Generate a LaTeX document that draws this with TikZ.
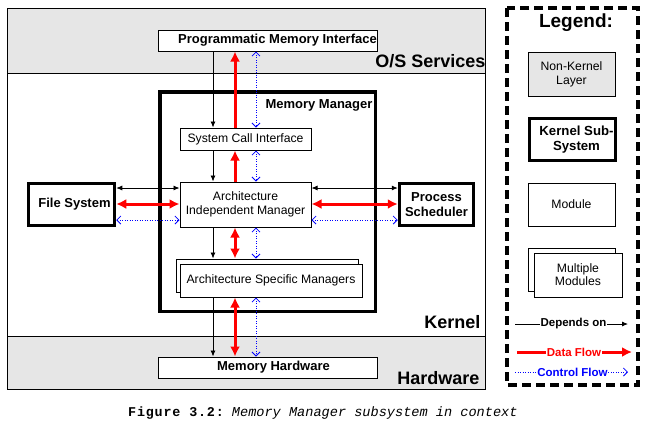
\documentclass[tikz,border=0pt]{standalone}
\usepackage{fontspec}
\setmainfont{Liberation Sans}
\setmonofont{Liberation Mono}
\usetikzlibrary{arrows.meta}
\definecolor{layergray}{RGB}{230,230,230}
\newcommand{\fsz}[1]{\fontsize{#1}{#1}\selectfont}
\tikzset{
  box/.style={draw, line width=1pt, inner sep=0pt, fill=white, align=center},
  thickbox/.style={draw, line width=3.5pt, inner sep=0pt, fill=white, align=center},
  reg/.style={font=\fsz{12.2}, align=center},
  bld/.style={font=\bfseries\fsz{13}, align=center},
  big/.style={font=\bfseries\fsz{18}},
  dep/.style={line width=0.8pt, -{Latex[length=6pt,width=5pt]}},
  depboth/.style={line width=0.8pt, {Latex[length=6pt,width=5pt]}-{Latex[length=6pt,width=5pt]}},
  data/.style={red, line width=3pt, -{Latex[length=10pt,width=10pt]}},
  databoth/.style={red, line width=3pt, {Latex[length=10pt,width=10pt]}-{Latex[length=10pt,width=10pt]}},
  ctrl/.style={blue, line width=0.8pt, dash pattern=on 1pt off 1.5pt, {Straight Barb[length=4pt,width=8pt]}-{Straight Barb[length=4pt,width=8pt]}},
  ctrlone/.style={blue, line width=0.8pt, dash pattern=on 1pt off 1.5pt, -{Straight Barb[length=4pt,width=8pt]}},
}
\begin{document}
\begin{tikzpicture}[x=1pt,y=-1pt]
\useasboundingbox (0,0) rectangle (648,421);
% layers
\fill[layergray] (7,8) rectangle (485,73);
\fill[layergray] (7,336) rectangle (485,389);
\draw[line width=1pt] (7,8) rectangle (485,389);
\draw[line width=1pt] (7,73) -- (485,73);
\draw[line width=1pt] (7,336) -- (485,336);
\node[big, anchor=east] (oslbl) at (489,61) {O/S Services};
\node[big, anchor=east] (kerlbl) at (484,322) {Kernel};
\node[big, anchor=east] (hwlbl) at (483,378) {Hardware};

% nodes
\node[box, minimum width=219, minimum height=21] (pmi) at (267.5,40.5) {};
\node[bld] (pmit) at ([xshift=10pt]pmi.center) {Programmatic Memory Interface};
\node[thickbox, minimum width=215.5, minimum height=219.5] (mm) at (267.5,201.5) {};
\node[bld, anchor=east] (mmt) at (376,105) {Memory Manager};
\node[box, reg, minimum width=131, minimum height=22] (sci) at (245.5,139) {System Call Interface};
\node[box, reg, minimum width=131, minimum height=45] (aim) at (245.5,204.5) {Architecture\\[1.8pt]Independent Manager};
\node[box, minimum width=182, minimum height=33] (asmb) at (267,275.5) {};
\node[box, reg, minimum width=182, minimum height=33] (asm) at (271,280.5) {Architecture Specific Managers};
\node[box, minimum width=219, minimum height=21] (mh) at (267.5,367.5) {};
\node[bld] (mht) at ([xshift=6pt]mh.center) {Memory Hardware};
\node[thickbox, minimum width=86, minimum height=42] (fs) at (71.5,204.5) {};
\node[bld] (fst) at ([xshift=3pt]fs.center) {File System};
\node[thickbox, bld, minimum width=74, minimum height=42] (ps) at (436.5,204.5) {Process\\[2pt]Scheduler};

% columns and rows
\coordinate (cb) at (213,0);
\coordinate (cr) at (235,0);
\coordinate (cc) at (256,0);
\coordinate (rb) at (0,188);
\coordinate (rr) at (0,204);
\coordinate (rc) at (0,220);

% vertical connectors
\draw[dep] (pmi.south -| cb) -- (sci.north -| cb);
\draw[data] (sci.north -| cr) -- (pmi.south -| cr);
\draw[ctrl] (pmi.south -| cc) -- (sci.north -| cc);

\draw[dep] (sci.south -| cb) -- (aim.north -| cb);
\draw[data] (aim.north -| cr) -- (sci.south -| cr);
\draw[ctrl] (sci.south -| cc) -- (aim.north -| cc);

\draw[dep] (aim.south -| cb) -- (asmb.north -| cb);
\draw[databoth] (aim.south -| cr) -- (asmb.north -| cr);
\draw[ctrl] (aim.south -| cc) -- (asmb.north -| cc);

\draw[dep] (asm.south -| cb) -- (mh.north -| cb);
\draw[databoth] (asm.south -| cr) -- (mh.north -| cr);
\draw[ctrl] (asm.south -| cc) -- (mh.north -| cc);

% horizontal connectors
\draw[depboth] (fs.east |- rb) -- (aim.west |- rb);
\draw[databoth] (fs.east |- rr) -- (aim.west |- rr);
\draw[ctrl] (fs.east |- rc) -- (aim.west |- rc);
\draw[depboth] (aim.east |- rb) -- (ps.west |- rb);
\draw[databoth] (aim.east |- rr) -- (ps.west |- rr);
\draw[ctrl] (aim.east |- rc) -- (ps.west |- rc);

% legend
\draw[line width=3.5pt, dash pattern=on 9pt off 5pt] (507,8) rectangle (638,385);
\node[font=\bfseries\fsz{19}] (legt) at (576,23) {Legend:};
\node[box, reg, fill=layergray, minimum width=87, minimum height=44] (lnk) at (571.5,74) {Non-Kernel\\[1.5pt]Layer};
\node[draw, line width=3pt, inner sep=0pt, fill=white, minimum width=86, minimum height=42] (lks) at (572.5,139.5) {};
\node[font=\bfseries\fsz{13.2}, align=center] (lkst) at ([xshift=4pt]lks.center) {Kernel Sub-\\[1.5pt]System};
\node[box, reg, minimum width=87, minimum height=43] (lmod) at (571.5,204.5) {Module};
\node[box, minimum width=87, minimum height=43] (lmmb) at (571.5,269.5) {};
\node[box, reg, minimum width=88, minimum height=44] (lmm) at (578,275) {Multiple\\[1pt]Modules};

\coordinate (depL) at (515,324);
\coordinate (depR) at (628,324);
\node[font=\bfseries\fsz{11.5}, inner sep=0.5pt] (ldep) at (573.5,324) {Depends on};
\draw[line width=0.8pt] (depL) -- (ldep);
\draw[dep] (ldep) -- (depR);

\coordinate (datL) at (517,352);
\coordinate (datR) at (632,352);
\node[font=\bfseries\fsz{11.5}, text=red, inner sep=0.5pt] (ldat) at (574,352) {Data Flow};
\draw[red, line width=3pt] (datL) -- (ldat);
\draw[data] (ldat) -- (datR);

\coordinate (ctlL) at (515,372);
\coordinate (ctlR) at (628,372);
\node[font=\bfseries\fsz{11.5}, text=blue, inner sep=0.5pt] (lctl) at (572.5,372) {Control Flow};
\draw[blue, line width=0.8pt, dash pattern=on 1pt off 1.5pt] (ctlL) -- (lctl);
\draw[ctrlone] (lctl) -- (ctlR);

% caption
\node[anchor=base west, inner sep=0pt, font=\ttfamily\fsz{13.4}] (cap) at (128,416) {{\bfseries\addfontfeature{LetterSpace=6}Figure 3.2:} {\fsz{13.6}\itshape Memory Manager subsystem in context}};
\end{tikzpicture}
\end{document}
